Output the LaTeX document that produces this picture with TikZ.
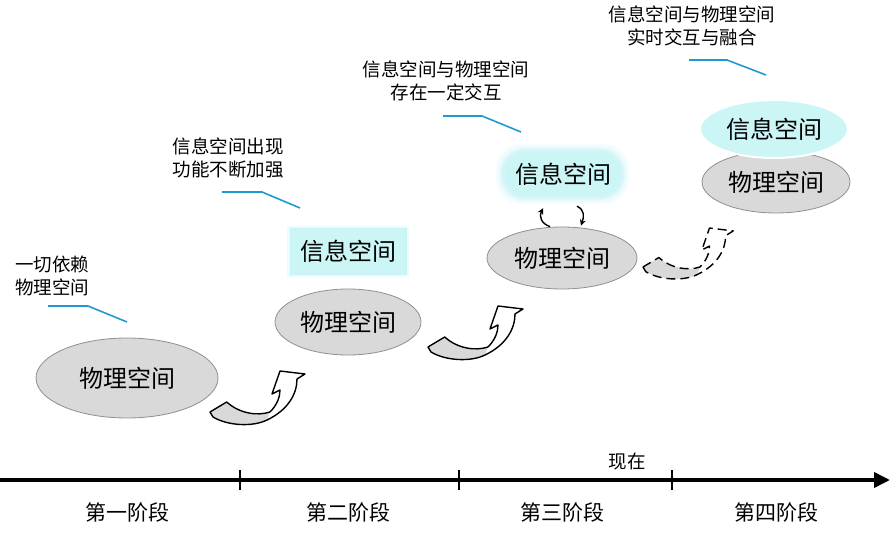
\documentclass[tikz,border=0pt]{standalone}
\usepackage{fontspec}
\setmainfont{Noto Sans CJK SC}
\usetikzlibrary{shapes.geometric,arrows.meta}
\definecolor{physfill}{HTML}{D9D9D9}
\definecolor{physdraw}{HTML}{8F8F8F}
\definecolor{infofill}{HTML}{CCF6F6}
\definecolor{glowc}{HTML}{BDEFF4}
\definecolor{callout}{HTML}{1E9AD0}
\begin{document}
\begin{tikzpicture}[x=1pt,y=-1pt,
  phys/.style={ellipse, fill=physfill, draw=physdraw, line width=0.8pt, inner sep=0pt, font=\fontsize{24}{28}\selectfont},
  infotext/.style={inner sep=0pt, font=\fontsize{24}{28}\selectfont},
  annot/.style={align=center, inner sep=0pt, font=\fontsize{18.5}{23}\selectfont},
  stagelbl/.style={inner sep=0pt, font=\fontsize{21}{24}\selectfont},
  callline/.style={draw=callout, line width=1.6pt},
  ribbonarrow/.pic={
    \path[fill=white] (0,0) -- (16.7,-10) .. controls (30,2) and (48,4) .. (60,0)
      .. controls (67,-7) and (70,-15) .. (70,-22) -- (62,-18) -- (70,-41) -- (95,-38) -- (87,-33)
      .. controls (87,-18) and (78,-2) .. (57,8) .. controls (43,15) and (18,14) .. (3,5) -- cycle;
    \path[fill=physfill] (0,0) -- (16.7,-10) .. controls (30,2) and (48,4) .. (60,0)
      -- (57,8) .. controls (43,15) and (18,14) .. (3,5) -- cycle;
    \draw[line width=1.4pt, line join=round, pic actions] (0,0) -- (16.7,-10) .. controls (30,2) and (48,4) .. (60,0)
      .. controls (67,-7) and (70,-15) .. (70,-22) -- (62,-18) -- (70,-41) -- (95,-38) -- (87,-33)
      .. controls (87,-18) and (78,-2) .. (57,8) .. controls (43,15) and (18,14) .. (3,5) -- cycle;
  }]
\useasboundingbox (0,0) rectangle (891,534);

% time axis
\coordinate (axL) at (0,480);
\coordinate (axR) at (890,480);
\draw[line width=3.6pt, -{Triangle[length=16pt,width=15pt]}] (axL) -- (axR);
\foreach \x in {240,459,672} \draw[line width=2pt] (\x,470) -- (\x,490);
\node[stagelbl] (s1) at (127,512) {第一阶段};
\node[stagelbl] (s2) at (348,512) {第二阶段};
\node[stagelbl] (s3) at (562,512) {第三阶段};
\node[stagelbl] (s4) at (776,512) {第四阶段};
\node[inner sep=0pt, font=\fontsize{18.5}{22}\selectfont] (now) at (627,461) {现在};

% stage 1
\node[phys, minimum width=182, minimum height=80] (p1) at (127,378) {物理空间};
\node[annot] (a1) at (52,276) {一切依赖\\物理空间};
\draw[callline] (48,306) -- (88,306) -- (127,322);

% stage 2
\node[phys, minimum width=146, minimum height=66] (p2) at (348,322) {物理空间};
\fill[glowc, opacity=0.25] (287,226) rectangle (409,277);
\node[infotext, fill=infofill, draw=glowc!80!white, line width=0.6pt, minimum width=116, minimum height=46] (i2) at (348,251) {信息空间};
\node[annot] (a2) at (228,158) {信息空间出现\\功能不断加强};
\draw[callline] (222,192) -- (262,192) -- (300,208);

% stage 3
\node[phys, minimum width=150, minimum height=62] (p3) at (562,258) {物理空间};
\foreach \d/\o in {7/0.12,5/0.18,3/0.25,1.5/0.35}
  \fill[glowc, opacity=\o, rounded corners=24] (503-\d,151-\d) rectangle (622+\d,197+\d);
\node[infotext, fill=infofill, rounded corners=22, minimum width=116, minimum height=44] (i3) at (563,174) {信息空间};
\draw[line width=1.4pt, -{Stealth[length=6pt,width=6pt]}] ([shift={(-12,0)}]p3.north) .. controls +(-9,-3) and +(-4,8) .. ([shift={(-20,12)}]i3.south);
\draw[line width=1.4pt, -{Stealth[length=6pt,width=6pt]}] ([shift={(14,10)}]i3.south) .. controls +(8,4) and +(3,-9) .. ([shift={(19,-1)}]p3.north);
\node[annot] (a3) at (446,81) {信息空间与物理空间\\存在一定交互};
\draw[callline] (443,116) -- (482,116) -- (521,132);

% stage 4
\node[phys, minimum width=148, minimum height=62] (p4) at (776,182) {物理空间};
\node[infotext, ellipse, fill=infofill, draw=white, line width=2pt, minimum width=148, minimum height=58] (i4) at (774,129) {信息空间};
\node[annot] (a4) at (692,26) {信息空间与物理空间\\实时交互与融合};
\draw[callline] (689,60) -- (727,60) -- (766,75);

% transition arrows
\pic at (210,412) {ribbonarrow};
\pic at (428,347) {ribbonarrow};
\pic[dash pattern=on 9pt off 5pt, scale=0.95] at (643,267) {ribbonarrow};
\end{tikzpicture}
\end{document}
